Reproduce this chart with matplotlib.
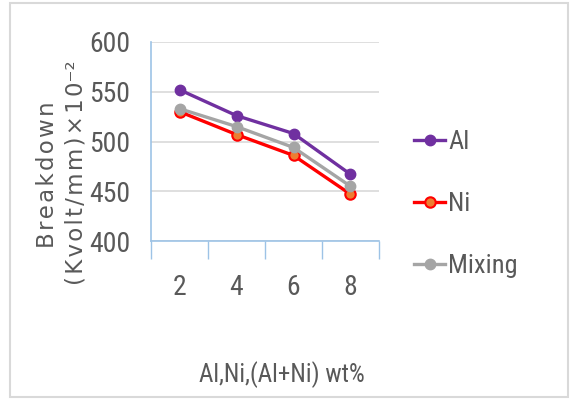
import matplotlib.pyplot as plt

# breakdown voltage vs filler content
wt = ["2", "4", "6", "8"]
al = [552, 526, 508, 467]
ni = [530, 507, 486, 447]
mixing = [533, 515, 494, 455]

narrow = ["Liberation Sans Narrow", "Roboto Condensed", "Liberation Sans"]
txt = "#595959"


def spaced(s):
    # open up the letter spacing a little
    return "\u200a".join(s)


fig = plt.figure(figsize=(5.73, 4.0), dpi=100)
# light frame around the whole chart
fig.patches.append(plt.Rectangle((10 / 573, 3 / 400), 558 / 573, 394 / 400,
                                 transform=fig.transFigure, fill=False,
                                 edgecolor="#d9d9d9", linewidth=1.5))
ax = fig.add_axes([151 / 573, 1 - 241 / 400, 228 / 573, 199 / 400])

x = range(len(wt))
ax.plot(x, al, color="#7030a0", lw=2.4, marker="o", ms=7.5,
        mfc="#7030a0", mec="#7030a0", label="Al", zorder=3)
ax.plot(x, ni, color="#ff0000", lw=2.4, marker="o", ms=7.5,
        mfc="#ed7d31", mec="#ff0000", mew=1.5, label="Ni", zorder=3)
ax.plot(x, mixing, color="#a5a5a5", lw=2.4, marker="o", ms=7.5,
        mfc="#a5a5a5", mec="#a5a5a5", label="Mixing", zorder=4)

ax.set_xlim(-0.5, len(wt) - 0.5)
ax.set_ylim(400, 600)
ax.set_yticks([400, 450, 500, 550, 600])
ax.grid(axis="y", color="#d9d9d9", lw=1.2)
ax.set_axisbelow(True)

# category boundaries as ticks, labels centred between them
ax.set_xticks([i - 0.5 for i in range(len(wt) + 1)])
ax.set_xticklabels([])
ax.set_xticks(list(x), minor=True)
ax.set_xticklabels(wt, minor=True, fontsize=20, color=txt, family=narrow)
ax.tick_params(axis="x", which="major", length=13, width=1, color="#9dc3e6")
ax.tick_params(axis="x", which="minor", length=0, pad=24)
ax.tick_params(axis="y", length=0, pad=15, labelsize=20, labelcolor=txt)
for lab in ax.get_yticklabels():
    lab.set_family(narrow)

for s in ["top", "right"]:
    ax.spines[s].set_visible(False)
for s in ["left", "bottom"]:
    ax.spines[s].set_color("#9dc3e6")
    ax.spines[s].set_linewidth(1.2)

fig.text(48 / 573, 1 - 175 / 400, spaced("Breakdown"), rotation=90,
         ha="center", va="center", fontsize=16.5, color=txt,
         family="DejaVu Sans")
fig.text(76 / 573, 1 - 173 / 400, spaced("(Kvolt/mm)×10") + "⁻²", rotation=90,
         ha="center", va="center", fontsize=16.5, color=txt,
         family="DejaVu Sans")
fig.text(282 / 573, 1 - 375 / 400, "Al,Ni,(Al+Ni) wt%", ha="center",
         va="center", fontsize=18, color=txt, family=narrow)

ax.legend(loc="upper left", bbox_to_anchor=(390 / 573, 1 - 106 / 400),
          bbox_transform=fig.transFigure, frameon=False, handlelength=1.2,
          handletextpad=0.1, labelspacing=1.45,
          prop={"family": narrow, "size": 19}, labelcolor=txt)

fig.savefig("out.png", dpi=100)
